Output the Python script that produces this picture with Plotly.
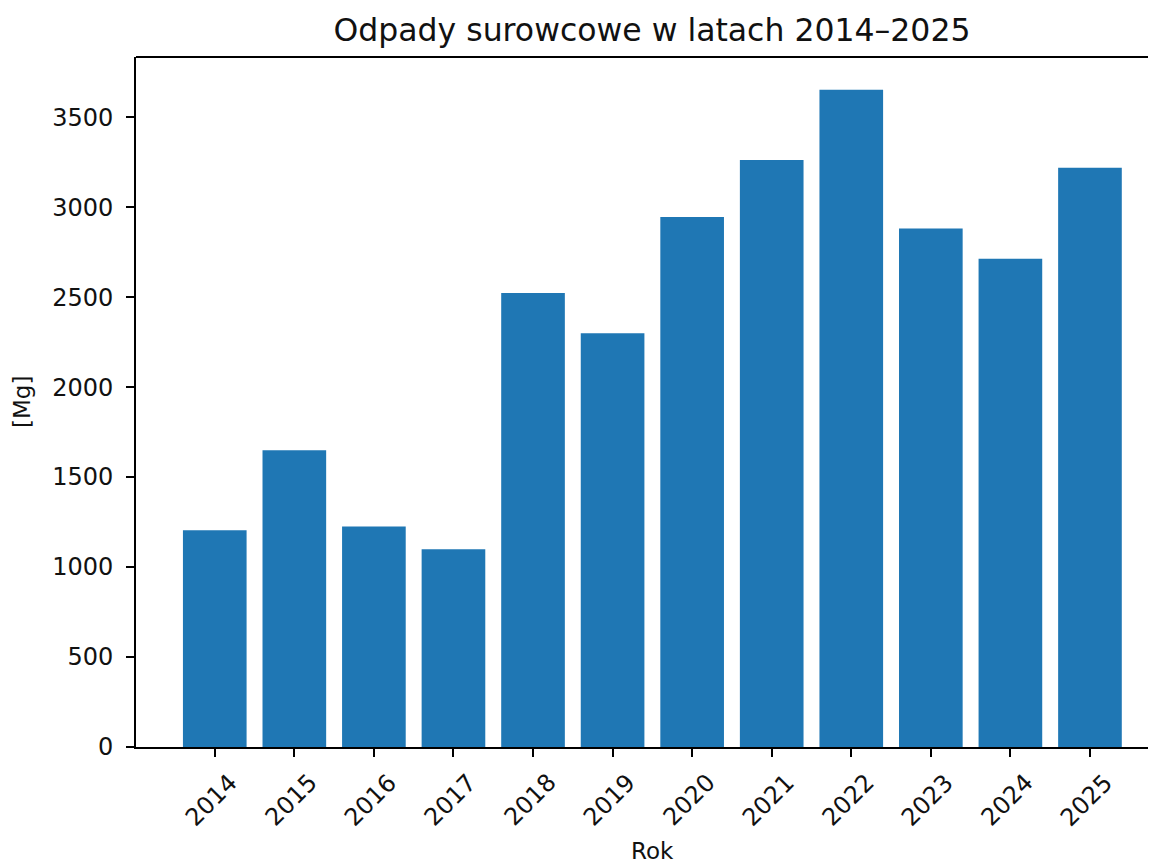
import plotly.graph_objects as go

years = ["2014", "2015", "2016", "2017", "2018", "2019", "2020", "2021", "2022", "2023", "2024", "2025"]
values = [1205, 1649, 1225, 1099, 2523, 2300, 2945, 3262, 3652, 2882, 2713, 3219]
yticks = [0, 500, 1000, 1500, 2000, 2500, 3000, 3500]

FONT = "DejaVu Sans"
TXT = "#111111"
xs = list(range(len(years)))

W, H = 1148, 855

fig = go.Figure()
fig.add_trace(go.Bar(x=xs, y=values, width=0.8, marker=dict(color="#1f77b4", line=dict(width=0))))

for i, y in zip(xs, years):
    fig.add_annotation(x=i, y=0, xref="x", yref="paper", text=y, textangle=-45,
                       showarrow=False, xanchor="center", yanchor="top", yshift=-19, xshift=-3,
                       font=dict(family=FONT, size=24, color=TXT))

fig.add_annotation(x=0.5 * (-0.99 + 11.99), y=0, xref="x", yref="paper", text="Rok",
                   showarrow=False, xanchor="center", yanchor="middle", yshift=-104,
                   font=dict(family=FONT, size=23, color=TXT))

fig.add_annotation(x=0, y=0.5, xref="paper", yref="paper", text="[Mg]", textangle=-90,
                   showarrow=False, xanchor="center", yanchor="middle", xshift=-114,
                   font=dict(family=FONT, size=23, color=TXT))

fig.add_shape(type="line", xref="paper", yref="paper", x0=0, x1=1, y0=1, y1=1,
              line=dict(color="black", width=1.8))

fig.update_layout(
    width=W, height=H,
    margin=dict(l=128, r=0, t=49, b=116, autoexpand=False),
    plot_bgcolor="white", paper_bgcolor="white",
    showlegend=False,
    font=dict(family=FONT, size=24, color=TXT),
    title=dict(text="Odpady surowcowe w latach 2014–2025", x=(652 - 8) / W, xanchor="center",
               y=1 - 22 / H, yanchor="middle", font=dict(family=FONT, size=31.5, color=TXT)),
    xaxis=dict(range=[-0.99, 11.83], showline=True, linecolor="black", linewidth=1.8,
               tickvals=xs, ticks="outside", ticklen=8, tickwidth=1.8, tickcolor="black",
               showticklabels=False, showgrid=False, zeroline=False, automargin=False),
    yaxis=dict(range=[0, 3834.6], tickvals=yticks, ticktext=[str(v) for v in yticks],
               showline=True, linecolor="black", linewidth=1.8, ticks="outside", ticklen=8,
               tickwidth=1.8, tickcolor="black", showgrid=False, zeroline=False, automargin=False,
               ticklabelstandoff=8,
               tickfont=dict(family=FONT, size=24, color=TXT)),
)

fig.write_html("out.html")
